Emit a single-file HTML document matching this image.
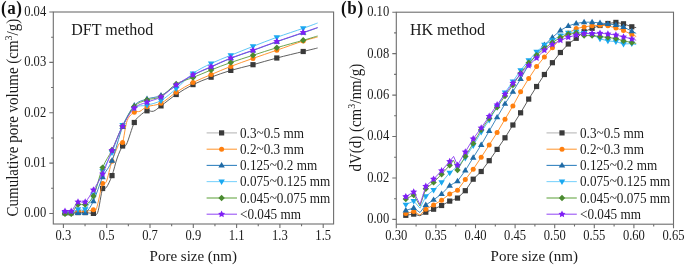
<!DOCTYPE html>
<html><head><meta charset="utf-8"><style>
html,body{margin:0;padding:0;background:#fff;}
body{width:685px;height:266px;overflow:hidden;}
svg{display:block;will-change:transform;}
</style></head><body>
<svg width="685" height="266" viewBox="0 0 685 266">
<rect width="685" height="266" fill="#fff"/>
<rect x="53.3" y="12.0" width="280.30" height="212.00" fill="none" stroke="#6e6e6e" stroke-width="1.1"/>
<path d="M49.30,213.50H53.30M51.10,188.31H53.30M49.30,163.12H53.30M51.10,137.94H53.30M49.30,112.75H53.30M51.10,87.56H53.30M49.30,62.38H53.30M51.10,37.19H53.30M49.30,12.00H53.30M63.40,224.00V228.00M85.05,224.00V226.20M106.70,224.00V228.00M128.35,224.00V226.20M150.00,224.00V228.00M171.65,224.00V226.20M193.30,224.00V228.00M214.95,224.00V226.20M236.60,224.00V228.00M258.25,224.00V226.20M279.90,224.00V228.00M301.55,224.00V226.20M323.20,224.00V228.00" stroke="#6e6e6e" stroke-width="1.1" fill="none"/>
<text transform="translate(46.2,217.40) scale(1,1.12)" font-family="'Liberation Serif', serif" font-size="12.6" fill="#1a1a1a" text-anchor="end">0.00</text>
<text transform="translate(46.2,167.03) scale(1,1.12)" font-family="'Liberation Serif', serif" font-size="12.6" fill="#1a1a1a" text-anchor="end">0.01</text>
<text transform="translate(46.2,116.65) scale(1,1.12)" font-family="'Liberation Serif', serif" font-size="12.6" fill="#1a1a1a" text-anchor="end">0.02</text>
<text transform="translate(46.2,66.28) scale(1,1.12)" font-family="'Liberation Serif', serif" font-size="12.6" fill="#1a1a1a" text-anchor="end">0.03</text>
<text transform="translate(46.2,15.90) scale(1,1.12)" font-family="'Liberation Serif', serif" font-size="12.6" fill="#1a1a1a" text-anchor="end">0.04</text>
<text transform="translate(63.40,240.3) scale(1,1.12)" font-family="'Liberation Serif', serif" font-size="12.6" fill="#1a1a1a" text-anchor="middle">0.3</text>
<text transform="translate(106.70,240.3) scale(1,1.12)" font-family="'Liberation Serif', serif" font-size="12.6" fill="#1a1a1a" text-anchor="middle">0.5</text>
<text transform="translate(150.00,240.3) scale(1,1.12)" font-family="'Liberation Serif', serif" font-size="12.6" fill="#1a1a1a" text-anchor="middle">0.7</text>
<text transform="translate(193.30,240.3) scale(1,1.12)" font-family="'Liberation Serif', serif" font-size="12.6" fill="#1a1a1a" text-anchor="middle">0.9</text>
<text transform="translate(236.60,240.3) scale(1,1.12)" font-family="'Liberation Serif', serif" font-size="12.6" fill="#1a1a1a" text-anchor="middle">1.1</text>
<text transform="translate(279.90,240.3) scale(1,1.12)" font-family="'Liberation Serif', serif" font-size="12.6" fill="#1a1a1a" text-anchor="middle">1.3</text>
<text transform="translate(323.20,240.3) scale(1,1.12)" font-family="'Liberation Serif', serif" font-size="12.6" fill="#1a1a1a" text-anchor="middle">1.5</text>
<text transform="translate(1.0,14.3) scale(1,1.08)" font-family="'Liberation Serif', serif" font-size="17" font-weight="bold" fill="#111" letter-spacing="0.6">(a)</text>
<text x="71.3" y="35" font-family="'Liberation Serif', serif" font-size="16" fill="#1a1a1a">DFT method</text>
<text x="193.3" y="260.8" font-family="'Liberation Serif', serif" font-size="15" fill="#1a1a1a" text-anchor="middle">Pore size (nm)</text>
<text transform="translate(18.1,117.6) rotate(-90) scale(1,1.05)" font-family="'Liberation Serif', serif" font-size="15" fill="#1a1a1a" text-anchor="middle">Cumulative pore volume (cm<tspan dy="-6.2" font-size="10">3</tspan><tspan dy="6.2">/g)</tspan></text>
<path d="M65.00,212.60 C66.03,212.60 69.03,212.60 71.20,212.60 C73.37,212.60 75.67,212.60 78.00,212.60 C80.33,212.60 82.63,212.47 85.20,212.60 C87.77,212.73 91.32,213.43 93.40,213.40 C95.48,213.37 96.17,216.55 97.70,212.40 C99.23,208.25 101.17,192.63 102.60,188.50 C104.03,184.37 104.73,189.75 106.30,187.60 C107.87,185.45 110.18,180.53 112.00,175.60 C113.82,170.67 115.43,162.93 117.20,158.00 C118.97,153.07 121.05,148.28 122.60,146.00 C124.15,143.72 124.55,148.22 126.50,144.30 C128.45,140.38 132.05,127.28 134.30,122.50 C136.55,117.72 137.88,117.55 140.00,115.60 C142.12,113.65 144.75,111.53 147.00,110.80 C149.25,110.07 151.17,112.02 153.50,111.20 C155.83,110.38 157.22,108.68 161.00,105.90 C164.78,103.12 170.87,98.05 176.20,94.50 C181.53,90.95 187.18,87.48 193.00,84.60 C198.82,81.72 204.80,79.57 211.10,77.20 C217.40,74.83 223.82,72.48 230.80,70.40 C237.78,68.32 245.33,66.77 253.00,64.70 C260.67,62.63 268.43,60.20 276.80,58.00 C285.17,55.80 296.40,53.17 303.20,51.50 C310.00,49.83 315.20,48.58 317.60,48.00" stroke="#4d4d4d" stroke-width="0.9" fill="none"/>
<rect x="62.40" y="210.00" width="5.20" height="5.20" fill="#3a3a3a"/>
<rect x="68.60" y="210.00" width="5.20" height="5.20" fill="#3a3a3a"/>
<rect x="75.40" y="210.00" width="5.20" height="5.20" fill="#3a3a3a"/>
<rect x="82.60" y="210.00" width="5.20" height="5.20" fill="#3a3a3a"/>
<rect x="90.80" y="210.80" width="5.20" height="5.20" fill="#3a3a3a"/>
<rect x="100.00" y="185.90" width="5.20" height="5.20" fill="#3a3a3a"/>
<rect x="109.40" y="173.00" width="5.20" height="5.20" fill="#3a3a3a"/>
<rect x="120.00" y="143.40" width="5.20" height="5.20" fill="#3a3a3a"/>
<rect x="131.70" y="119.90" width="5.20" height="5.20" fill="#3a3a3a"/>
<rect x="144.40" y="108.20" width="5.20" height="5.20" fill="#3a3a3a"/>
<rect x="158.40" y="103.30" width="5.20" height="5.20" fill="#3a3a3a"/>
<rect x="173.60" y="91.90" width="5.20" height="5.20" fill="#3a3a3a"/>
<rect x="190.40" y="82.00" width="5.20" height="5.20" fill="#3a3a3a"/>
<rect x="208.50" y="74.60" width="5.20" height="5.20" fill="#3a3a3a"/>
<rect x="228.20" y="67.80" width="5.20" height="5.20" fill="#3a3a3a"/>
<rect x="250.40" y="62.10" width="5.20" height="5.20" fill="#3a3a3a"/>
<rect x="274.20" y="55.40" width="5.20" height="5.20" fill="#3a3a3a"/>
<rect x="300.60" y="48.90" width="5.20" height="5.20" fill="#3a3a3a"/>
<path d="M65.00,213.50 C66.03,213.50 69.03,213.87 71.20,213.50 C73.37,213.13 75.67,211.67 78.00,211.30 C80.33,210.93 82.63,211.55 85.20,211.30 C87.77,211.05 91.52,210.25 93.40,209.80 C95.28,209.35 94.97,212.98 96.50,208.60 C98.03,204.22 100.97,187.98 102.60,183.50 C104.23,179.02 104.73,185.42 106.30,181.70 C107.87,177.98 109.88,167.48 112.00,161.20 C114.12,154.92 117.23,147.10 119.00,144.00 C120.77,140.90 121.23,146.52 122.60,142.60 C123.97,138.68 125.25,125.57 127.20,120.50 C129.15,115.43 132.17,113.73 134.30,112.20 C136.43,110.67 137.88,112.22 140.00,111.30 C142.12,110.38 143.50,108.05 147.00,106.70 C150.50,105.35 156.13,105.60 161.00,103.20 C165.87,100.80 170.87,95.75 176.20,92.30 C181.53,88.85 187.18,85.45 193.00,82.50 C198.82,79.55 204.80,77.28 211.10,74.60 C217.40,71.92 223.82,69.10 230.80,66.40 C237.78,63.70 245.33,61.10 253.00,58.40 C260.67,55.70 268.43,53.10 276.80,50.20 C285.17,47.30 296.40,43.20 303.20,41.00 C310.00,38.80 315.20,37.67 317.60,37.00" stroke="#ff8a1e" stroke-width="0.9" fill="none"/>
<circle cx="65.00" cy="213.50" r="2.50" fill="#ff7f0e"/>
<circle cx="71.20" cy="213.50" r="2.50" fill="#ff7f0e"/>
<circle cx="78.00" cy="211.30" r="2.50" fill="#ff7f0e"/>
<circle cx="85.20" cy="211.30" r="2.50" fill="#ff7f0e"/>
<circle cx="93.40" cy="209.80" r="2.50" fill="#ff7f0e"/>
<circle cx="102.60" cy="183.50" r="2.50" fill="#ff7f0e"/>
<circle cx="112.00" cy="161.20" r="2.50" fill="#ff7f0e"/>
<circle cx="122.60" cy="142.60" r="2.50" fill="#ff7f0e"/>
<circle cx="134.30" cy="112.20" r="2.50" fill="#ff7f0e"/>
<circle cx="147.00" cy="106.70" r="2.50" fill="#ff7f0e"/>
<circle cx="161.00" cy="103.20" r="2.50" fill="#ff7f0e"/>
<circle cx="176.20" cy="92.30" r="2.50" fill="#ff7f0e"/>
<circle cx="193.00" cy="82.50" r="2.50" fill="#ff7f0e"/>
<circle cx="211.10" cy="74.60" r="2.50" fill="#ff7f0e"/>
<circle cx="230.80" cy="66.40" r="2.50" fill="#ff7f0e"/>
<circle cx="253.00" cy="58.40" r="2.50" fill="#ff7f0e"/>
<circle cx="276.80" cy="50.20" r="2.50" fill="#ff7f0e"/>
<circle cx="303.20" cy="41.00" r="2.50" fill="#ff7f0e"/>
<path d="M65.00,213.30 C66.03,213.30 69.03,213.35 71.20,213.30 C73.37,213.25 75.67,213.05 78.00,213.00 C80.33,212.95 82.63,214.97 85.20,213.00 C87.77,211.03 90.50,207.17 93.40,201.20 C96.30,195.23 99.50,183.97 102.60,177.20 C105.70,170.43 108.67,168.97 112.00,160.60 C115.33,152.23 118.88,136.18 122.60,127.00 C126.32,117.82 130.23,110.17 134.30,105.50 C138.37,100.83 142.55,100.67 147.00,99.00 C151.45,97.33 156.13,97.73 161.00,95.50 C165.87,93.27 170.87,89.00 176.20,85.60 C181.53,82.20 187.18,78.20 193.00,75.10 C198.82,72.00 204.80,69.80 211.10,67.00 C217.40,64.20 223.82,61.05 230.80,58.30 C237.78,55.55 245.33,53.25 253.00,50.50 C260.67,47.75 268.43,44.75 276.80,41.80 C285.17,38.85 296.40,35.13 303.20,32.80 C310.00,30.47 315.20,28.63 317.60,27.80" stroke="#2a7ab5" stroke-width="0.9" fill="none"/>
<polygon points="65.00,209.90 68.23,215.34 61.77,215.34" fill="#1f6aa5"/>
<polygon points="71.20,209.90 74.43,215.34 67.97,215.34" fill="#1f6aa5"/>
<polygon points="78.00,209.60 81.23,215.04 74.77,215.04" fill="#1f6aa5"/>
<polygon points="85.20,209.60 88.43,215.04 81.97,215.04" fill="#1f6aa5"/>
<polygon points="93.40,197.80 96.63,203.24 90.17,203.24" fill="#1f6aa5"/>
<polygon points="102.60,173.80 105.83,179.24 99.37,179.24" fill="#1f6aa5"/>
<polygon points="112.00,157.20 115.23,162.64 108.77,162.64" fill="#1f6aa5"/>
<polygon points="122.60,123.60 125.83,129.04 119.37,129.04" fill="#1f6aa5"/>
<polygon points="134.30,102.10 137.53,107.54 131.07,107.54" fill="#1f6aa5"/>
<polygon points="147.00,95.60 150.23,101.04 143.77,101.04" fill="#1f6aa5"/>
<polygon points="161.00,92.10 164.23,97.54 157.77,97.54" fill="#1f6aa5"/>
<polygon points="176.20,82.20 179.43,87.64 172.97,87.64" fill="#1f6aa5"/>
<polygon points="193.00,71.70 196.23,77.14 189.77,77.14" fill="#1f6aa5"/>
<polygon points="211.10,63.60 214.33,69.04 207.87,69.04" fill="#1f6aa5"/>
<polygon points="230.80,54.90 234.03,60.34 227.57,60.34" fill="#1f6aa5"/>
<polygon points="253.00,47.10 256.23,52.54 249.77,52.54" fill="#1f6aa5"/>
<polygon points="276.80,38.40 280.03,43.84 273.57,43.84" fill="#1f6aa5"/>
<polygon points="303.20,29.40 306.43,34.84 299.97,34.84" fill="#1f6aa5"/>
<path d="M65.00,213.30 C66.03,213.30 69.03,213.97 71.20,213.30 C73.37,212.63 75.67,209.97 78.00,209.30 C80.33,208.63 82.63,211.77 85.20,209.30 C87.77,206.83 90.50,200.88 93.40,194.50 C96.30,188.12 99.50,178.00 102.60,171.00 C105.70,164.00 108.67,160.17 112.00,152.50 C115.33,144.83 118.88,132.42 122.60,125.00 C126.32,117.58 130.23,111.30 134.30,108.00 C138.37,104.70 142.55,106.45 147.00,105.20 C151.45,103.95 156.13,103.25 161.00,100.50 C165.87,97.75 170.87,93.20 176.20,88.70 C181.53,84.20 187.18,77.70 193.00,73.50 C198.82,69.30 204.80,66.53 211.10,63.50 C217.40,60.47 223.82,58.15 230.80,55.30 C237.78,52.45 245.33,49.40 253.00,46.40 C260.67,43.40 268.43,40.32 276.80,37.30 C285.17,34.28 296.40,30.68 303.20,28.30 C310.00,25.92 315.20,23.88 317.60,23.00" stroke="#4cc0f5" stroke-width="0.9" fill="none"/>
<polygon points="65.00,216.70 68.23,211.26 61.77,211.26" fill="#1aa8f0"/>
<polygon points="71.20,216.70 74.43,211.26 67.97,211.26" fill="#1aa8f0"/>
<polygon points="78.00,212.70 81.23,207.26 74.77,207.26" fill="#1aa8f0"/>
<polygon points="85.20,212.70 88.43,207.26 81.97,207.26" fill="#1aa8f0"/>
<polygon points="93.40,197.90 96.63,192.46 90.17,192.46" fill="#1aa8f0"/>
<polygon points="102.60,174.40 105.83,168.96 99.37,168.96" fill="#1aa8f0"/>
<polygon points="112.00,155.90 115.23,150.46 108.77,150.46" fill="#1aa8f0"/>
<polygon points="122.60,128.40 125.83,122.96 119.37,122.96" fill="#1aa8f0"/>
<polygon points="134.30,111.40 137.53,105.96 131.07,105.96" fill="#1aa8f0"/>
<polygon points="147.00,108.60 150.23,103.16 143.77,103.16" fill="#1aa8f0"/>
<polygon points="161.00,103.90 164.23,98.46 157.77,98.46" fill="#1aa8f0"/>
<polygon points="176.20,92.10 179.43,86.66 172.97,86.66" fill="#1aa8f0"/>
<polygon points="193.00,76.90 196.23,71.46 189.77,71.46" fill="#1aa8f0"/>
<polygon points="211.10,66.90 214.33,61.46 207.87,61.46" fill="#1aa8f0"/>
<polygon points="230.80,58.70 234.03,53.26 227.57,53.26" fill="#1aa8f0"/>
<polygon points="253.00,49.80 256.23,44.36 249.77,44.36" fill="#1aa8f0"/>
<polygon points="276.80,40.70 280.03,35.26 273.57,35.26" fill="#1aa8f0"/>
<polygon points="303.20,31.70 306.43,26.26 299.97,26.26" fill="#1aa8f0"/>
<path d="M65.00,213.80 C66.03,213.80 69.03,215.35 71.20,213.80 C73.37,212.25 75.67,206.05 78.00,204.50 C80.33,202.95 82.63,205.92 85.20,204.50 C87.77,203.08 90.50,202.15 93.40,196.00 C96.30,189.85 99.50,175.27 102.60,167.60 C105.70,159.93 108.67,156.93 112.00,150.00 C115.33,143.07 118.88,133.25 122.60,126.00 C126.32,118.75 130.23,110.83 134.30,106.50 C138.37,102.17 142.55,101.67 147.00,100.00 C151.45,98.33 156.13,99.17 161.00,96.50 C165.87,93.83 170.87,87.17 176.20,84.00 C181.53,80.83 187.18,79.83 193.00,77.50 C198.82,75.17 204.80,72.50 211.10,70.00 C217.40,67.50 223.82,64.95 230.80,62.50 C237.78,60.05 245.33,57.77 253.00,55.30 C260.67,52.83 268.43,50.20 276.80,47.70 C285.17,45.20 296.40,42.25 303.20,40.30 C310.00,38.35 315.20,36.72 317.60,36.00" stroke="#5a9a3c" stroke-width="0.9" fill="none"/>
<polygon points="65.00,210.60 68.20,213.80 65.00,217.00 61.80,213.80" fill="#4a8a30"/>
<polygon points="71.20,210.60 74.40,213.80 71.20,217.00 68.00,213.80" fill="#4a8a30"/>
<polygon points="78.00,201.30 81.20,204.50 78.00,207.70 74.80,204.50" fill="#4a8a30"/>
<polygon points="85.20,201.30 88.40,204.50 85.20,207.70 82.00,204.50" fill="#4a8a30"/>
<polygon points="93.40,192.80 96.60,196.00 93.40,199.20 90.20,196.00" fill="#4a8a30"/>
<polygon points="102.60,164.40 105.80,167.60 102.60,170.80 99.40,167.60" fill="#4a8a30"/>
<polygon points="112.00,146.80 115.20,150.00 112.00,153.20 108.80,150.00" fill="#4a8a30"/>
<polygon points="122.60,122.80 125.80,126.00 122.60,129.20 119.40,126.00" fill="#4a8a30"/>
<polygon points="134.30,103.30 137.50,106.50 134.30,109.70 131.10,106.50" fill="#4a8a30"/>
<polygon points="147.00,96.80 150.20,100.00 147.00,103.20 143.80,100.00" fill="#4a8a30"/>
<polygon points="161.00,93.30 164.20,96.50 161.00,99.70 157.80,96.50" fill="#4a8a30"/>
<polygon points="176.20,80.80 179.40,84.00 176.20,87.20 173.00,84.00" fill="#4a8a30"/>
<polygon points="193.00,74.30 196.20,77.50 193.00,80.70 189.80,77.50" fill="#4a8a30"/>
<polygon points="211.10,66.80 214.30,70.00 211.10,73.20 207.90,70.00" fill="#4a8a30"/>
<polygon points="230.80,59.30 234.00,62.50 230.80,65.70 227.60,62.50" fill="#4a8a30"/>
<polygon points="253.00,52.10 256.20,55.30 253.00,58.50 249.80,55.30" fill="#4a8a30"/>
<polygon points="276.80,44.50 280.00,47.70 276.80,50.90 273.60,47.70" fill="#4a8a30"/>
<polygon points="303.20,37.10 306.40,40.30 303.20,43.50 300.00,40.30" fill="#4a8a30"/>
<path d="M65.00,211.30 C66.03,211.30 69.03,212.87 71.20,211.30 C73.37,209.73 75.67,203.47 78.00,201.90 C80.33,200.33 82.63,203.90 85.20,201.90 C87.77,199.90 90.50,194.55 93.40,189.90 C96.30,185.25 99.50,180.57 102.60,174.00 C105.70,167.43 108.67,158.45 112.00,150.50 C115.33,142.55 118.88,133.37 122.60,126.30 C126.32,119.23 130.23,112.12 134.30,108.10 C138.37,104.08 142.55,104.07 147.00,102.20 C151.45,100.33 156.13,99.77 161.00,96.90 C165.87,94.03 170.87,88.68 176.20,85.00 C181.53,81.32 187.18,77.85 193.00,74.80 C198.82,71.75 204.80,69.50 211.10,66.70 C217.40,63.90 223.82,60.75 230.80,58.00 C237.78,55.25 245.33,52.95 253.00,50.20 C260.67,47.45 268.43,44.45 276.80,41.50 C285.17,38.55 296.40,34.83 303.20,32.50 C310.00,30.17 315.20,28.33 317.60,27.50" stroke="#8a3cf0" stroke-width="0.9" fill="none"/>
<polygon points="65.00,207.60 66.09,209.80 68.52,210.16 66.76,211.87 67.17,214.29 65.00,213.15 62.83,214.29 63.24,211.87 61.48,210.16 63.91,209.80" fill="#7f1ff5"/>
<polygon points="71.20,207.60 72.29,209.80 74.72,210.16 72.96,211.87 73.37,214.29 71.20,213.15 69.03,214.29 69.44,211.87 67.68,210.16 70.11,209.80" fill="#7f1ff5"/>
<polygon points="78.00,198.20 79.09,200.40 81.52,200.76 79.76,202.47 80.17,204.89 78.00,203.75 75.83,204.89 76.24,202.47 74.48,200.76 76.91,200.40" fill="#7f1ff5"/>
<polygon points="85.20,198.20 86.29,200.40 88.72,200.76 86.96,202.47 87.37,204.89 85.20,203.75 83.03,204.89 83.44,202.47 81.68,200.76 84.11,200.40" fill="#7f1ff5"/>
<polygon points="93.40,186.20 94.49,188.40 96.92,188.76 95.16,190.47 95.57,192.89 93.40,191.75 91.23,192.89 91.64,190.47 89.88,188.76 92.31,188.40" fill="#7f1ff5"/>
<polygon points="102.60,170.30 103.69,172.50 106.12,172.86 104.36,174.57 104.77,176.99 102.60,175.85 100.43,176.99 100.84,174.57 99.08,172.86 101.51,172.50" fill="#7f1ff5"/>
<polygon points="112.00,146.80 113.09,149.00 115.52,149.36 113.76,151.07 114.17,153.49 112.00,152.35 109.83,153.49 110.24,151.07 108.48,149.36 110.91,149.00" fill="#7f1ff5"/>
<polygon points="122.60,122.60 123.69,124.80 126.12,125.16 124.36,126.87 124.77,129.29 122.60,128.15 120.43,129.29 120.84,126.87 119.08,125.16 121.51,124.80" fill="#7f1ff5"/>
<polygon points="134.30,104.40 135.39,106.60 137.82,106.96 136.06,108.67 136.47,111.09 134.30,109.95 132.13,111.09 132.54,108.67 130.78,106.96 133.21,106.60" fill="#7f1ff5"/>
<polygon points="147.00,98.50 148.09,100.70 150.52,101.06 148.76,102.77 149.17,105.19 147.00,104.05 144.83,105.19 145.24,102.77 143.48,101.06 145.91,100.70" fill="#7f1ff5"/>
<polygon points="161.00,93.20 162.09,95.40 164.52,95.76 162.76,97.47 163.17,99.89 161.00,98.75 158.83,99.89 159.24,97.47 157.48,95.76 159.91,95.40" fill="#7f1ff5"/>
<polygon points="176.20,81.30 177.29,83.50 179.72,83.86 177.96,85.57 178.37,87.99 176.20,86.85 174.03,87.99 174.44,85.57 172.68,83.86 175.11,83.50" fill="#7f1ff5"/>
<polygon points="193.00,71.10 194.09,73.30 196.52,73.66 194.76,75.37 195.17,77.79 193.00,76.65 190.83,77.79 191.24,75.37 189.48,73.66 191.91,73.30" fill="#7f1ff5"/>
<polygon points="211.10,63.00 212.19,65.20 214.62,65.56 212.86,67.27 213.27,69.69 211.10,68.55 208.93,69.69 209.34,67.27 207.58,65.56 210.01,65.20" fill="#7f1ff5"/>
<polygon points="230.80,54.30 231.89,56.50 234.32,56.86 232.56,58.57 232.97,60.99 230.80,59.85 228.63,60.99 229.04,58.57 227.28,56.86 229.71,56.50" fill="#7f1ff5"/>
<polygon points="253.00,46.50 254.09,48.70 256.52,49.06 254.76,50.77 255.17,53.19 253.00,52.05 250.83,53.19 251.24,50.77 249.48,49.06 251.91,48.70" fill="#7f1ff5"/>
<polygon points="276.80,37.80 277.89,40.00 280.32,40.36 278.56,42.07 278.97,44.49 276.80,43.35 274.63,44.49 275.04,42.07 273.28,40.36 275.71,40.00" fill="#7f1ff5"/>
<polygon points="303.20,28.80 304.29,31.00 306.72,31.36 304.96,33.07 305.37,35.49 303.20,34.35 301.03,35.49 301.44,33.07 299.68,31.36 302.11,31.00" fill="#7f1ff5"/>
<path d="M206.6,132.9H237.0" stroke="#b8b8b8" stroke-width="1.1"/>
<rect x="219.00" y="130.30" width="5.20" height="5.20" fill="#3a3a3a"/>
<text transform="translate(240.0,137.50) scale(0.93,1)" font-family="'Liberation Serif', serif" font-size="14.2" fill="#1a1a1a">0.3~0.5 mm</text>
<path d="M206.6,149.2H237.0" stroke="#ff9d3c" stroke-width="1.1"/>
<circle cx="221.60" cy="149.20" r="2.50" fill="#ff7f0e"/>
<text transform="translate(240.0,153.80) scale(0.93,1)" font-family="'Liberation Serif', serif" font-size="14.2" fill="#1a1a1a">0.2~0.3 mm</text>
<path d="M206.6,165.4H237.0" stroke="#3584c0" stroke-width="1.1"/>
<polygon points="221.60,162.00 224.83,167.44 218.37,167.44" fill="#1f6aa5"/>
<text transform="translate(240.0,170.00) scale(0.93,1)" font-family="'Liberation Serif', serif" font-size="14.2" fill="#1a1a1a">0.125~0.2 mm</text>
<path d="M206.6,181.6H237.0" stroke="#80d4fc" stroke-width="1.1"/>
<polygon points="221.60,185.00 224.83,179.56 218.37,179.56" fill="#1aa8f0"/>
<text transform="translate(240.0,186.20) scale(0.93,1)" font-family="'Liberation Serif', serif" font-size="14.2" fill="#1a1a1a">0.075~0.125 mm</text>
<path d="M206.6,198.0H237.0" stroke="#68a848" stroke-width="1.1"/>
<polygon points="221.60,194.80 224.80,198.00 221.60,201.20 218.40,198.00" fill="#4a8a30"/>
<text transform="translate(240.0,202.60) scale(0.93,1)" font-family="'Liberation Serif', serif" font-size="14.2" fill="#1a1a1a">0.045~0.075 mm</text>
<path d="M206.6,214.2H237.0" stroke="#9a55f5" stroke-width="1.1"/>
<polygon points="221.60,210.50 222.69,212.70 225.12,213.06 223.36,214.77 223.77,217.19 221.60,216.05 219.43,217.19 219.84,214.77 218.08,213.06 220.51,212.70" fill="#7f1ff5"/>
<text transform="translate(240.0,218.80) scale(0.93,1)" font-family="'Liberation Serif', serif" font-size="14.2" fill="#1a1a1a">&lt;0.045 mm</text>
<rect x="396.3" y="12.2" width="277.20" height="212.00" fill="none" stroke="#6e6e6e" stroke-width="1.1"/>
<path d="M392.30,219.40H396.30M394.10,198.68H396.30M392.30,177.96H396.30M394.10,157.24H396.30M392.30,136.52H396.30M394.10,115.80H396.30M392.30,95.08H396.30M394.10,74.36H396.30M392.30,53.64H396.30M394.10,32.92H396.30M392.30,12.20H396.30M396.30,224.20V228.20M416.10,224.20V226.40M435.90,224.20V228.20M455.70,224.20V226.40M475.50,224.20V228.20M495.30,224.20V226.40M515.10,224.20V228.20M534.90,224.20V226.40M554.70,224.20V228.20M574.50,224.20V226.40M594.30,224.20V228.20M614.10,224.20V226.40M633.90,224.20V228.20M653.70,224.20V226.40M673.50,224.20V228.20" stroke="#6e6e6e" stroke-width="1.1" fill="none"/>
<text transform="translate(389.2,223.30) scale(1,1.12)" font-family="'Liberation Serif', serif" font-size="12.6" fill="#1a1a1a" text-anchor="end">0.00</text>
<text transform="translate(389.2,181.86) scale(1,1.12)" font-family="'Liberation Serif', serif" font-size="12.6" fill="#1a1a1a" text-anchor="end">0.02</text>
<text transform="translate(389.2,140.42) scale(1,1.12)" font-family="'Liberation Serif', serif" font-size="12.6" fill="#1a1a1a" text-anchor="end">0.04</text>
<text transform="translate(389.2,98.98) scale(1,1.12)" font-family="'Liberation Serif', serif" font-size="12.6" fill="#1a1a1a" text-anchor="end">0.06</text>
<text transform="translate(389.2,57.54) scale(1,1.12)" font-family="'Liberation Serif', serif" font-size="12.6" fill="#1a1a1a" text-anchor="end">0.08</text>
<text transform="translate(389.2,16.10) scale(1,1.12)" font-family="'Liberation Serif', serif" font-size="12.6" fill="#1a1a1a" text-anchor="end">0.10</text>
<text transform="translate(396.30,240.3) scale(1,1.12)" font-family="'Liberation Serif', serif" font-size="12.6" fill="#1a1a1a" text-anchor="middle">0.30</text>
<text transform="translate(435.90,240.3) scale(1,1.12)" font-family="'Liberation Serif', serif" font-size="12.6" fill="#1a1a1a" text-anchor="middle">0.35</text>
<text transform="translate(475.50,240.3) scale(1,1.12)" font-family="'Liberation Serif', serif" font-size="12.6" fill="#1a1a1a" text-anchor="middle">0.40</text>
<text transform="translate(515.10,240.3) scale(1,1.12)" font-family="'Liberation Serif', serif" font-size="12.6" fill="#1a1a1a" text-anchor="middle">0.45</text>
<text transform="translate(554.70,240.3) scale(1,1.12)" font-family="'Liberation Serif', serif" font-size="12.6" fill="#1a1a1a" text-anchor="middle">0.50</text>
<text transform="translate(594.30,240.3) scale(1,1.12)" font-family="'Liberation Serif', serif" font-size="12.6" fill="#1a1a1a" text-anchor="middle">0.55</text>
<text transform="translate(633.90,240.3) scale(1,1.12)" font-family="'Liberation Serif', serif" font-size="12.6" fill="#1a1a1a" text-anchor="middle">0.60</text>
<text transform="translate(673.50,240.3) scale(1,1.12)" font-family="'Liberation Serif', serif" font-size="12.6" fill="#1a1a1a" text-anchor="middle">0.65</text>
<text transform="translate(341.1,14.4) scale(1,1.08)" font-family="'Liberation Serif', serif" font-size="17" font-weight="bold" fill="#111" letter-spacing="0.6">(b)</text>
<text x="409.9" y="35" font-family="'Liberation Serif', serif" font-size="16" fill="#1a1a1a">HK method</text>
<text x="534.3" y="260.8" font-family="'Liberation Serif', serif" font-size="15" fill="#1a1a1a" text-anchor="middle">Pore size (nm)</text>
<text transform="translate(361.3,117.7) rotate(-90) scale(1,1.05)" font-family="'Liberation Serif', serif" font-size="15" fill="#1a1a1a" text-anchor="middle">dV(d) (cm<tspan dy="-6.2" font-size="10">3</tspan><tspan dy="6.2">/nm/g)</tspan></text>
<path d="M405.80,215.30 L413.70,214.10 L420.00,215.80 L425.80,212.20 L433.60,209.20 L441.60,205.50 L449.70,201.10 L453.60,199.60 L457.50,198.10 L465.30,190.70 L473.20,179.20 L481.20,171.50 L489.20,160.70 L497.10,149.40 L505.00,137.80 L512.90,125.00 L520.60,112.80 L528.70,99.10 L536.60,86.50 L544.40,74.50 L552.40,62.70 L560.40,52.50 L568.30,44.00 L576.20,38.30 L584.10,31.70 L592.10,28.30 L600.00,25.50 L607.90,23.50 L615.90,22.40 L623.50,23.80 L631.80,26.80 L636.20,27.60" stroke="#4d4d4d" stroke-width="0.9" fill="none" stroke-linejoin="round"/>
<rect x="403.20" y="212.70" width="5.20" height="5.20" fill="#3a3a3a"/>
<rect x="411.10" y="211.50" width="5.20" height="5.20" fill="#3a3a3a"/>
<rect x="423.20" y="209.60" width="5.20" height="5.20" fill="#3a3a3a"/>
<rect x="431.00" y="206.60" width="5.20" height="5.20" fill="#3a3a3a"/>
<rect x="439.00" y="202.90" width="5.20" height="5.20" fill="#3a3a3a"/>
<rect x="447.10" y="198.50" width="5.20" height="5.20" fill="#3a3a3a"/>
<rect x="454.90" y="195.50" width="5.20" height="5.20" fill="#3a3a3a"/>
<rect x="462.70" y="188.10" width="5.20" height="5.20" fill="#3a3a3a"/>
<rect x="470.60" y="176.60" width="5.20" height="5.20" fill="#3a3a3a"/>
<rect x="478.60" y="168.90" width="5.20" height="5.20" fill="#3a3a3a"/>
<rect x="486.60" y="158.10" width="5.20" height="5.20" fill="#3a3a3a"/>
<rect x="494.50" y="146.80" width="5.20" height="5.20" fill="#3a3a3a"/>
<rect x="502.40" y="135.20" width="5.20" height="5.20" fill="#3a3a3a"/>
<rect x="510.30" y="122.40" width="5.20" height="5.20" fill="#3a3a3a"/>
<rect x="518.00" y="110.20" width="5.20" height="5.20" fill="#3a3a3a"/>
<rect x="526.10" y="96.50" width="5.20" height="5.20" fill="#3a3a3a"/>
<rect x="534.00" y="83.90" width="5.20" height="5.20" fill="#3a3a3a"/>
<rect x="541.80" y="71.90" width="5.20" height="5.20" fill="#3a3a3a"/>
<rect x="549.80" y="60.10" width="5.20" height="5.20" fill="#3a3a3a"/>
<rect x="557.80" y="49.90" width="5.20" height="5.20" fill="#3a3a3a"/>
<rect x="565.70" y="41.40" width="5.20" height="5.20" fill="#3a3a3a"/>
<rect x="573.60" y="35.70" width="5.20" height="5.20" fill="#3a3a3a"/>
<rect x="581.50" y="29.10" width="5.20" height="5.20" fill="#3a3a3a"/>
<rect x="589.50" y="25.70" width="5.20" height="5.20" fill="#3a3a3a"/>
<rect x="597.40" y="22.90" width="5.20" height="5.20" fill="#3a3a3a"/>
<rect x="605.30" y="20.90" width="5.20" height="5.20" fill="#3a3a3a"/>
<rect x="613.30" y="19.80" width="5.20" height="5.20" fill="#3a3a3a"/>
<rect x="620.90" y="21.20" width="5.20" height="5.20" fill="#3a3a3a"/>
<rect x="629.20" y="24.20" width="5.20" height="5.20" fill="#3a3a3a"/>
<path d="M405.80,213.40 L413.70,211.60 L420.00,215.10 L425.80,209.20 L433.60,205.00 L441.60,200.20 L449.70,194.00 L453.60,192.10 L457.50,190.20 L465.30,179.60 L473.20,169.30 L481.20,157.30 L489.20,144.90 L497.10,132.60 L505.00,119.20 L512.90,105.90 L520.60,91.80 L528.70,78.50 L536.60,66.60 L544.40,57.00 L552.40,47.80 L560.40,38.50 L568.30,33.00 L576.20,28.60 L584.10,26.90 L592.10,25.70 L600.00,25.30 L607.90,25.80 L615.90,28.00 L623.50,30.60 L631.80,34.40 L636.20,36.50" stroke="#ff8a1e" stroke-width="0.9" fill="none" stroke-linejoin="round"/>
<circle cx="405.80" cy="213.40" r="2.50" fill="#ff7f0e"/>
<circle cx="413.70" cy="211.60" r="2.50" fill="#ff7f0e"/>
<circle cx="425.80" cy="209.20" r="2.50" fill="#ff7f0e"/>
<circle cx="433.60" cy="205.00" r="2.50" fill="#ff7f0e"/>
<circle cx="441.60" cy="200.20" r="2.50" fill="#ff7f0e"/>
<circle cx="449.70" cy="194.00" r="2.50" fill="#ff7f0e"/>
<circle cx="457.50" cy="190.20" r="2.50" fill="#ff7f0e"/>
<circle cx="465.30" cy="179.60" r="2.50" fill="#ff7f0e"/>
<circle cx="473.20" cy="169.30" r="2.50" fill="#ff7f0e"/>
<circle cx="481.20" cy="157.30" r="2.50" fill="#ff7f0e"/>
<circle cx="489.20" cy="144.90" r="2.50" fill="#ff7f0e"/>
<circle cx="497.10" cy="132.60" r="2.50" fill="#ff7f0e"/>
<circle cx="505.00" cy="119.20" r="2.50" fill="#ff7f0e"/>
<circle cx="512.90" cy="105.90" r="2.50" fill="#ff7f0e"/>
<circle cx="520.60" cy="91.80" r="2.50" fill="#ff7f0e"/>
<circle cx="528.70" cy="78.50" r="2.50" fill="#ff7f0e"/>
<circle cx="536.60" cy="66.60" r="2.50" fill="#ff7f0e"/>
<circle cx="544.40" cy="57.00" r="2.50" fill="#ff7f0e"/>
<circle cx="552.40" cy="47.80" r="2.50" fill="#ff7f0e"/>
<circle cx="560.40" cy="38.50" r="2.50" fill="#ff7f0e"/>
<circle cx="568.30" cy="33.00" r="2.50" fill="#ff7f0e"/>
<circle cx="576.20" cy="28.60" r="2.50" fill="#ff7f0e"/>
<circle cx="584.10" cy="26.90" r="2.50" fill="#ff7f0e"/>
<circle cx="592.10" cy="25.70" r="2.50" fill="#ff7f0e"/>
<circle cx="600.00" cy="25.30" r="2.50" fill="#ff7f0e"/>
<circle cx="607.90" cy="25.80" r="2.50" fill="#ff7f0e"/>
<circle cx="615.90" cy="28.00" r="2.50" fill="#ff7f0e"/>
<circle cx="623.50" cy="30.60" r="2.50" fill="#ff7f0e"/>
<circle cx="631.80" cy="34.40" r="2.50" fill="#ff7f0e"/>
<path d="M405.80,210.40 L413.70,208.00 L420.00,212.50 L425.80,205.00 L433.60,199.80 L441.60,194.00 L449.70,185.70 L453.60,183.40 L457.50,181.20 L465.30,170.50 L473.20,157.60 L481.20,144.90 L489.20,131.00 L497.10,117.30 L505.00,103.80 L512.90,91.60 L520.60,79.00 L528.70,64.50 L536.60,54.50 L544.40,45.00 L552.40,37.50 L560.40,30.40 L568.30,25.90 L576.20,23.40 L584.10,22.20 L592.10,22.20 L600.00,22.90 L607.90,23.90 L615.90,24.90 L623.50,27.00 L631.80,31.20 L636.20,33.40" stroke="#2a7ab5" stroke-width="0.9" fill="none" stroke-linejoin="round"/>
<polygon points="405.80,207.00 409.03,212.44 402.57,212.44" fill="#1f6aa5"/>
<polygon points="413.70,204.60 416.93,210.04 410.47,210.04" fill="#1f6aa5"/>
<polygon points="425.80,201.60 429.03,207.04 422.57,207.04" fill="#1f6aa5"/>
<polygon points="433.60,196.40 436.83,201.84 430.37,201.84" fill="#1f6aa5"/>
<polygon points="441.60,190.60 444.83,196.04 438.37,196.04" fill="#1f6aa5"/>
<polygon points="449.70,182.30 452.93,187.74 446.47,187.74" fill="#1f6aa5"/>
<polygon points="457.50,177.80 460.73,183.24 454.27,183.24" fill="#1f6aa5"/>
<polygon points="465.30,167.10 468.53,172.54 462.07,172.54" fill="#1f6aa5"/>
<polygon points="473.20,154.20 476.43,159.64 469.97,159.64" fill="#1f6aa5"/>
<polygon points="481.20,141.50 484.43,146.94 477.97,146.94" fill="#1f6aa5"/>
<polygon points="489.20,127.60 492.43,133.04 485.97,133.04" fill="#1f6aa5"/>
<polygon points="497.10,113.90 500.33,119.34 493.87,119.34" fill="#1f6aa5"/>
<polygon points="505.00,100.40 508.23,105.84 501.77,105.84" fill="#1f6aa5"/>
<polygon points="512.90,88.20 516.13,93.64 509.67,93.64" fill="#1f6aa5"/>
<polygon points="520.60,75.60 523.83,81.04 517.37,81.04" fill="#1f6aa5"/>
<polygon points="528.70,61.10 531.93,66.54 525.47,66.54" fill="#1f6aa5"/>
<polygon points="536.60,51.10 539.83,56.54 533.37,56.54" fill="#1f6aa5"/>
<polygon points="544.40,41.60 547.63,47.04 541.17,47.04" fill="#1f6aa5"/>
<polygon points="552.40,34.10 555.63,39.54 549.17,39.54" fill="#1f6aa5"/>
<polygon points="560.40,27.00 563.63,32.44 557.17,32.44" fill="#1f6aa5"/>
<polygon points="568.30,22.50 571.53,27.94 565.07,27.94" fill="#1f6aa5"/>
<polygon points="576.20,20.00 579.43,25.44 572.97,25.44" fill="#1f6aa5"/>
<polygon points="584.10,18.80 587.33,24.24 580.87,24.24" fill="#1f6aa5"/>
<polygon points="592.10,18.80 595.33,24.24 588.87,24.24" fill="#1f6aa5"/>
<polygon points="600.00,19.50 603.23,24.94 596.77,24.94" fill="#1f6aa5"/>
<polygon points="607.90,20.50 611.13,25.94 604.67,25.94" fill="#1f6aa5"/>
<polygon points="615.90,21.50 619.13,26.94 612.67,26.94" fill="#1f6aa5"/>
<polygon points="623.50,23.60 626.73,29.04 620.27,29.04" fill="#1f6aa5"/>
<polygon points="631.80,27.80 635.03,33.24 628.57,33.24" fill="#1f6aa5"/>
<path d="M405.80,204.70 L413.70,201.00 L420.00,208.20 L425.80,196.40 L433.60,190.00 L441.60,182.40 L449.70,172.80 L453.60,169.50 L457.50,166.50 L465.30,158.00 L473.20,145.50 L481.20,132.00 L489.20,120.00 L497.10,107.00 L505.00,92.50 L512.90,81.50 L520.60,70.30 L528.70,60.40 L536.60,51.80 L544.40,44.80 L552.40,40.30 L560.40,35.60 L568.30,32.80 L576.20,31.80 L584.10,33.00 L592.10,34.50 L600.00,38.80 L607.90,40.90 L615.90,41.60 L623.50,44.00 L631.80,43.60 L636.20,44.60" stroke="#4cc0f5" stroke-width="0.9" fill="none" stroke-linejoin="round"/>
<polygon points="405.80,208.10 409.03,202.66 402.57,202.66" fill="#1aa8f0"/>
<polygon points="413.70,204.40 416.93,198.96 410.47,198.96" fill="#1aa8f0"/>
<polygon points="425.80,199.80 429.03,194.36 422.57,194.36" fill="#1aa8f0"/>
<polygon points="433.60,193.40 436.83,187.96 430.37,187.96" fill="#1aa8f0"/>
<polygon points="441.60,185.80 444.83,180.36 438.37,180.36" fill="#1aa8f0"/>
<polygon points="449.70,176.20 452.93,170.76 446.47,170.76" fill="#1aa8f0"/>
<polygon points="457.50,169.90 460.73,164.46 454.27,164.46" fill="#1aa8f0"/>
<polygon points="465.30,161.40 468.53,155.96 462.07,155.96" fill="#1aa8f0"/>
<polygon points="473.20,148.90 476.43,143.46 469.97,143.46" fill="#1aa8f0"/>
<polygon points="481.20,135.40 484.43,129.96 477.97,129.96" fill="#1aa8f0"/>
<polygon points="489.20,123.40 492.43,117.96 485.97,117.96" fill="#1aa8f0"/>
<polygon points="497.10,110.40 500.33,104.96 493.87,104.96" fill="#1aa8f0"/>
<polygon points="505.00,95.90 508.23,90.46 501.77,90.46" fill="#1aa8f0"/>
<polygon points="512.90,84.90 516.13,79.46 509.67,79.46" fill="#1aa8f0"/>
<polygon points="520.60,73.70 523.83,68.26 517.37,68.26" fill="#1aa8f0"/>
<polygon points="528.70,63.80 531.93,58.36 525.47,58.36" fill="#1aa8f0"/>
<polygon points="536.60,55.20 539.83,49.76 533.37,49.76" fill="#1aa8f0"/>
<polygon points="544.40,48.20 547.63,42.76 541.17,42.76" fill="#1aa8f0"/>
<polygon points="552.40,43.70 555.63,38.26 549.17,38.26" fill="#1aa8f0"/>
<polygon points="560.40,39.00 563.63,33.56 557.17,33.56" fill="#1aa8f0"/>
<polygon points="568.30,36.20 571.53,30.76 565.07,30.76" fill="#1aa8f0"/>
<polygon points="576.20,35.20 579.43,29.76 572.97,29.76" fill="#1aa8f0"/>
<polygon points="584.10,36.40 587.33,30.96 580.87,30.96" fill="#1aa8f0"/>
<polygon points="592.10,37.90 595.33,32.46 588.87,32.46" fill="#1aa8f0"/>
<polygon points="600.00,42.20 603.23,36.76 596.77,36.76" fill="#1aa8f0"/>
<polygon points="607.90,44.30 611.13,38.86 604.67,38.86" fill="#1aa8f0"/>
<polygon points="615.90,45.00 619.13,39.56 612.67,39.56" fill="#1aa8f0"/>
<polygon points="623.50,47.40 626.73,41.96 620.27,41.96" fill="#1aa8f0"/>
<polygon points="631.80,47.00 635.03,41.56 628.57,41.56" fill="#1aa8f0"/>
<path d="M405.80,199.00 L413.70,195.00 L420.00,206.00 L425.80,188.70 L433.60,182.40 L441.60,174.20 L449.70,165.30 L453.60,160.30 L457.50,170.10 L465.30,156.30 L473.20,143.40 L481.20,129.80 L489.20,118.30 L497.10,107.30 L505.00,96.00 L512.90,85.00 L520.60,73.30 L528.70,62.80 L536.60,55.20 L544.40,48.40 L552.40,42.50 L560.40,37.50 L568.30,34.30 L576.20,33.00 L584.10,35.60 L592.10,35.60 L600.00,36.50 L607.90,37.50 L615.90,38.50 L623.50,40.90 L631.80,42.50 L636.20,43.40" stroke="#5a9a3c" stroke-width="0.9" fill="none" stroke-linejoin="round"/>
<polygon points="405.80,195.80 409.00,199.00 405.80,202.20 402.60,199.00" fill="#4a8a30"/>
<polygon points="413.70,191.80 416.90,195.00 413.70,198.20 410.50,195.00" fill="#4a8a30"/>
<polygon points="425.80,185.50 429.00,188.70 425.80,191.90 422.60,188.70" fill="#4a8a30"/>
<polygon points="433.60,179.20 436.80,182.40 433.60,185.60 430.40,182.40" fill="#4a8a30"/>
<polygon points="441.60,171.00 444.80,174.20 441.60,177.40 438.40,174.20" fill="#4a8a30"/>
<polygon points="449.70,162.10 452.90,165.30 449.70,168.50 446.50,165.30" fill="#4a8a30"/>
<polygon points="457.50,166.90 460.70,170.10 457.50,173.30 454.30,170.10" fill="#4a8a30"/>
<polygon points="465.30,153.10 468.50,156.30 465.30,159.50 462.10,156.30" fill="#4a8a30"/>
<polygon points="473.20,140.20 476.40,143.40 473.20,146.60 470.00,143.40" fill="#4a8a30"/>
<polygon points="481.20,126.60 484.40,129.80 481.20,133.00 478.00,129.80" fill="#4a8a30"/>
<polygon points="489.20,115.10 492.40,118.30 489.20,121.50 486.00,118.30" fill="#4a8a30"/>
<polygon points="497.10,104.10 500.30,107.30 497.10,110.50 493.90,107.30" fill="#4a8a30"/>
<polygon points="505.00,92.80 508.20,96.00 505.00,99.20 501.80,96.00" fill="#4a8a30"/>
<polygon points="512.90,81.80 516.10,85.00 512.90,88.20 509.70,85.00" fill="#4a8a30"/>
<polygon points="520.60,70.10 523.80,73.30 520.60,76.50 517.40,73.30" fill="#4a8a30"/>
<polygon points="528.70,59.60 531.90,62.80 528.70,66.00 525.50,62.80" fill="#4a8a30"/>
<polygon points="536.60,52.00 539.80,55.20 536.60,58.40 533.40,55.20" fill="#4a8a30"/>
<polygon points="544.40,45.20 547.60,48.40 544.40,51.60 541.20,48.40" fill="#4a8a30"/>
<polygon points="552.40,39.30 555.60,42.50 552.40,45.70 549.20,42.50" fill="#4a8a30"/>
<polygon points="560.40,34.30 563.60,37.50 560.40,40.70 557.20,37.50" fill="#4a8a30"/>
<polygon points="568.30,31.10 571.50,34.30 568.30,37.50 565.10,34.30" fill="#4a8a30"/>
<polygon points="576.20,29.80 579.40,33.00 576.20,36.20 573.00,33.00" fill="#4a8a30"/>
<polygon points="584.10,32.40 587.30,35.60 584.10,38.80 580.90,35.60" fill="#4a8a30"/>
<polygon points="592.10,32.40 595.30,35.60 592.10,38.80 588.90,35.60" fill="#4a8a30"/>
<polygon points="600.00,33.30 603.20,36.50 600.00,39.70 596.80,36.50" fill="#4a8a30"/>
<polygon points="607.90,34.30 611.10,37.50 607.90,40.70 604.70,37.50" fill="#4a8a30"/>
<polygon points="615.90,35.30 619.10,38.50 615.90,41.70 612.70,38.50" fill="#4a8a30"/>
<polygon points="623.50,37.70 626.70,40.90 623.50,44.10 620.30,40.90" fill="#4a8a30"/>
<polygon points="631.80,39.30 635.00,42.50 631.80,45.70 628.60,42.50" fill="#4a8a30"/>
<path d="M405.80,196.60 L413.70,191.90 L420.00,204.50 L425.80,186.30 L433.60,179.10 L441.60,170.70 L449.70,161.40 L453.60,156.40 L457.50,165.20 L465.30,151.90 L473.20,138.80 L481.20,128.00 L489.20,116.30 L497.10,104.80 L505.00,94.20 L512.90,83.20 L520.60,73.90 L528.70,65.60 L536.60,57.90 L544.40,50.20 L552.40,44.50 L560.40,40.20 L568.30,37.20 L576.20,35.10 L584.10,33.60 L592.10,33.50 L600.00,33.20 L607.90,34.00 L615.90,35.00 L623.50,36.90 L631.80,38.90 L636.20,40.20" stroke="#8a3cf0" stroke-width="0.9" fill="none" stroke-linejoin="round"/>
<polygon points="405.80,192.90 406.89,195.10 409.32,195.46 407.56,197.17 407.97,199.59 405.80,198.45 403.63,199.59 404.04,197.17 402.28,195.46 404.71,195.10" fill="#7f1ff5"/>
<polygon points="413.70,188.20 414.79,190.40 417.22,190.76 415.46,192.47 415.87,194.89 413.70,193.75 411.53,194.89 411.94,192.47 410.18,190.76 412.61,190.40" fill="#7f1ff5"/>
<polygon points="425.80,182.60 426.89,184.80 429.32,185.16 427.56,186.87 427.97,189.29 425.80,188.15 423.63,189.29 424.04,186.87 422.28,185.16 424.71,184.80" fill="#7f1ff5"/>
<polygon points="433.60,175.40 434.69,177.60 437.12,177.96 435.36,179.67 435.77,182.09 433.60,180.95 431.43,182.09 431.84,179.67 430.08,177.96 432.51,177.60" fill="#7f1ff5"/>
<polygon points="441.60,167.00 442.69,169.20 445.12,169.56 443.36,171.27 443.77,173.69 441.60,172.55 439.43,173.69 439.84,171.27 438.08,169.56 440.51,169.20" fill="#7f1ff5"/>
<polygon points="449.70,157.70 450.79,159.90 453.22,160.26 451.46,161.97 451.87,164.39 449.70,163.25 447.53,164.39 447.94,161.97 446.18,160.26 448.61,159.90" fill="#7f1ff5"/>
<polygon points="457.50,161.50 458.59,163.70 461.02,164.06 459.26,165.77 459.67,168.19 457.50,167.05 455.33,168.19 455.74,165.77 453.98,164.06 456.41,163.70" fill="#7f1ff5"/>
<polygon points="465.30,148.20 466.39,150.40 468.82,150.76 467.06,152.47 467.47,154.89 465.30,153.75 463.13,154.89 463.54,152.47 461.78,150.76 464.21,150.40" fill="#7f1ff5"/>
<polygon points="473.20,135.10 474.29,137.30 476.72,137.66 474.96,139.37 475.37,141.79 473.20,140.65 471.03,141.79 471.44,139.37 469.68,137.66 472.11,137.30" fill="#7f1ff5"/>
<polygon points="481.20,124.30 482.29,126.50 484.72,126.86 482.96,128.57 483.37,130.99 481.20,129.85 479.03,130.99 479.44,128.57 477.68,126.86 480.11,126.50" fill="#7f1ff5"/>
<polygon points="489.20,112.60 490.29,114.80 492.72,115.16 490.96,116.87 491.37,119.29 489.20,118.15 487.03,119.29 487.44,116.87 485.68,115.16 488.11,114.80" fill="#7f1ff5"/>
<polygon points="497.10,101.10 498.19,103.30 500.62,103.66 498.86,105.37 499.27,107.79 497.10,106.65 494.93,107.79 495.34,105.37 493.58,103.66 496.01,103.30" fill="#7f1ff5"/>
<polygon points="505.00,90.50 506.09,92.70 508.52,93.06 506.76,94.77 507.17,97.19 505.00,96.05 502.83,97.19 503.24,94.77 501.48,93.06 503.91,92.70" fill="#7f1ff5"/>
<polygon points="512.90,79.50 513.99,81.70 516.42,82.06 514.66,83.77 515.07,86.19 512.90,85.05 510.73,86.19 511.14,83.77 509.38,82.06 511.81,81.70" fill="#7f1ff5"/>
<polygon points="520.60,70.20 521.69,72.40 524.12,72.76 522.36,74.47 522.77,76.89 520.60,75.75 518.43,76.89 518.84,74.47 517.08,72.76 519.51,72.40" fill="#7f1ff5"/>
<polygon points="528.70,61.90 529.79,64.10 532.22,64.46 530.46,66.17 530.87,68.59 528.70,67.45 526.53,68.59 526.94,66.17 525.18,64.46 527.61,64.10" fill="#7f1ff5"/>
<polygon points="536.60,54.20 537.69,56.40 540.12,56.76 538.36,58.47 538.77,60.89 536.60,59.75 534.43,60.89 534.84,58.47 533.08,56.76 535.51,56.40" fill="#7f1ff5"/>
<polygon points="544.40,46.50 545.49,48.70 547.92,49.06 546.16,50.77 546.57,53.19 544.40,52.05 542.23,53.19 542.64,50.77 540.88,49.06 543.31,48.70" fill="#7f1ff5"/>
<polygon points="552.40,40.80 553.49,43.00 555.92,43.36 554.16,45.07 554.57,47.49 552.40,46.35 550.23,47.49 550.64,45.07 548.88,43.36 551.31,43.00" fill="#7f1ff5"/>
<polygon points="560.40,36.50 561.49,38.70 563.92,39.06 562.16,40.77 562.57,43.19 560.40,42.05 558.23,43.19 558.64,40.77 556.88,39.06 559.31,38.70" fill="#7f1ff5"/>
<polygon points="568.30,33.50 569.39,35.70 571.82,36.06 570.06,37.77 570.47,40.19 568.30,39.05 566.13,40.19 566.54,37.77 564.78,36.06 567.21,35.70" fill="#7f1ff5"/>
<polygon points="576.20,31.40 577.29,33.60 579.72,33.96 577.96,35.67 578.37,38.09 576.20,36.95 574.03,38.09 574.44,35.67 572.68,33.96 575.11,33.60" fill="#7f1ff5"/>
<polygon points="584.10,29.90 585.19,32.10 587.62,32.46 585.86,34.17 586.27,36.59 584.10,35.45 581.93,36.59 582.34,34.17 580.58,32.46 583.01,32.10" fill="#7f1ff5"/>
<polygon points="592.10,29.80 593.19,32.00 595.62,32.36 593.86,34.07 594.27,36.49 592.10,35.35 589.93,36.49 590.34,34.07 588.58,32.36 591.01,32.00" fill="#7f1ff5"/>
<polygon points="600.00,29.50 601.09,31.70 603.52,32.06 601.76,33.77 602.17,36.19 600.00,35.05 597.83,36.19 598.24,33.77 596.48,32.06 598.91,31.70" fill="#7f1ff5"/>
<polygon points="607.90,30.30 608.99,32.50 611.42,32.86 609.66,34.57 610.07,36.99 607.90,35.85 605.73,36.99 606.14,34.57 604.38,32.86 606.81,32.50" fill="#7f1ff5"/>
<polygon points="615.90,31.30 616.99,33.50 619.42,33.86 617.66,35.57 618.07,37.99 615.90,36.85 613.73,37.99 614.14,35.57 612.38,33.86 614.81,33.50" fill="#7f1ff5"/>
<polygon points="623.50,33.20 624.59,35.40 627.02,35.76 625.26,37.47 625.67,39.89 623.50,38.75 621.33,39.89 621.74,37.47 619.98,35.76 622.41,35.40" fill="#7f1ff5"/>
<polygon points="631.80,35.20 632.89,37.40 635.32,37.76 633.56,39.47 633.97,41.89 631.80,40.75 629.63,41.89 630.04,39.47 628.28,37.76 630.71,37.40" fill="#7f1ff5"/>
<path d="M546.5,132.9H576.8" stroke="#b8b8b8" stroke-width="1.1"/>
<rect x="559.40" y="130.30" width="5.20" height="5.20" fill="#3a3a3a"/>
<text transform="translate(580.0,137.50) scale(0.93,1)" font-family="'Liberation Serif', serif" font-size="14.2" fill="#1a1a1a">0.3~0.5 mm</text>
<path d="M546.5,149.2H576.8" stroke="#ff9d3c" stroke-width="1.1"/>
<circle cx="562.00" cy="149.20" r="2.50" fill="#ff7f0e"/>
<text transform="translate(580.0,153.80) scale(0.93,1)" font-family="'Liberation Serif', serif" font-size="14.2" fill="#1a1a1a">0.2~0.3 mm</text>
<path d="M546.5,165.4H576.8" stroke="#3584c0" stroke-width="1.1"/>
<polygon points="562.00,162.00 565.23,167.44 558.77,167.44" fill="#1f6aa5"/>
<text transform="translate(580.0,170.00) scale(0.93,1)" font-family="'Liberation Serif', serif" font-size="14.2" fill="#1a1a1a">0.125~0.2 mm</text>
<path d="M546.5,181.6H576.8" stroke="#80d4fc" stroke-width="1.1"/>
<polygon points="562.00,185.00 565.23,179.56 558.77,179.56" fill="#1aa8f0"/>
<text transform="translate(580.0,186.20) scale(0.93,1)" font-family="'Liberation Serif', serif" font-size="14.2" fill="#1a1a1a">0.075~0.125 mm</text>
<path d="M546.5,198.0H576.8" stroke="#68a848" stroke-width="1.1"/>
<polygon points="562.00,194.80 565.20,198.00 562.00,201.20 558.80,198.00" fill="#4a8a30"/>
<text transform="translate(580.0,202.60) scale(0.93,1)" font-family="'Liberation Serif', serif" font-size="14.2" fill="#1a1a1a">0.045~0.075 mm</text>
<path d="M546.5,214.2H576.8" stroke="#9a55f5" stroke-width="1.1"/>
<polygon points="562.00,210.50 563.09,212.70 565.52,213.06 563.76,214.77 564.17,217.19 562.00,216.05 559.83,217.19 560.24,214.77 558.48,213.06 560.91,212.70" fill="#7f1ff5"/>
<text transform="translate(580.0,218.80) scale(0.93,1)" font-family="'Liberation Serif', serif" font-size="14.2" fill="#1a1a1a">&lt;0.045 mm</text>
</svg>
</body></html>
